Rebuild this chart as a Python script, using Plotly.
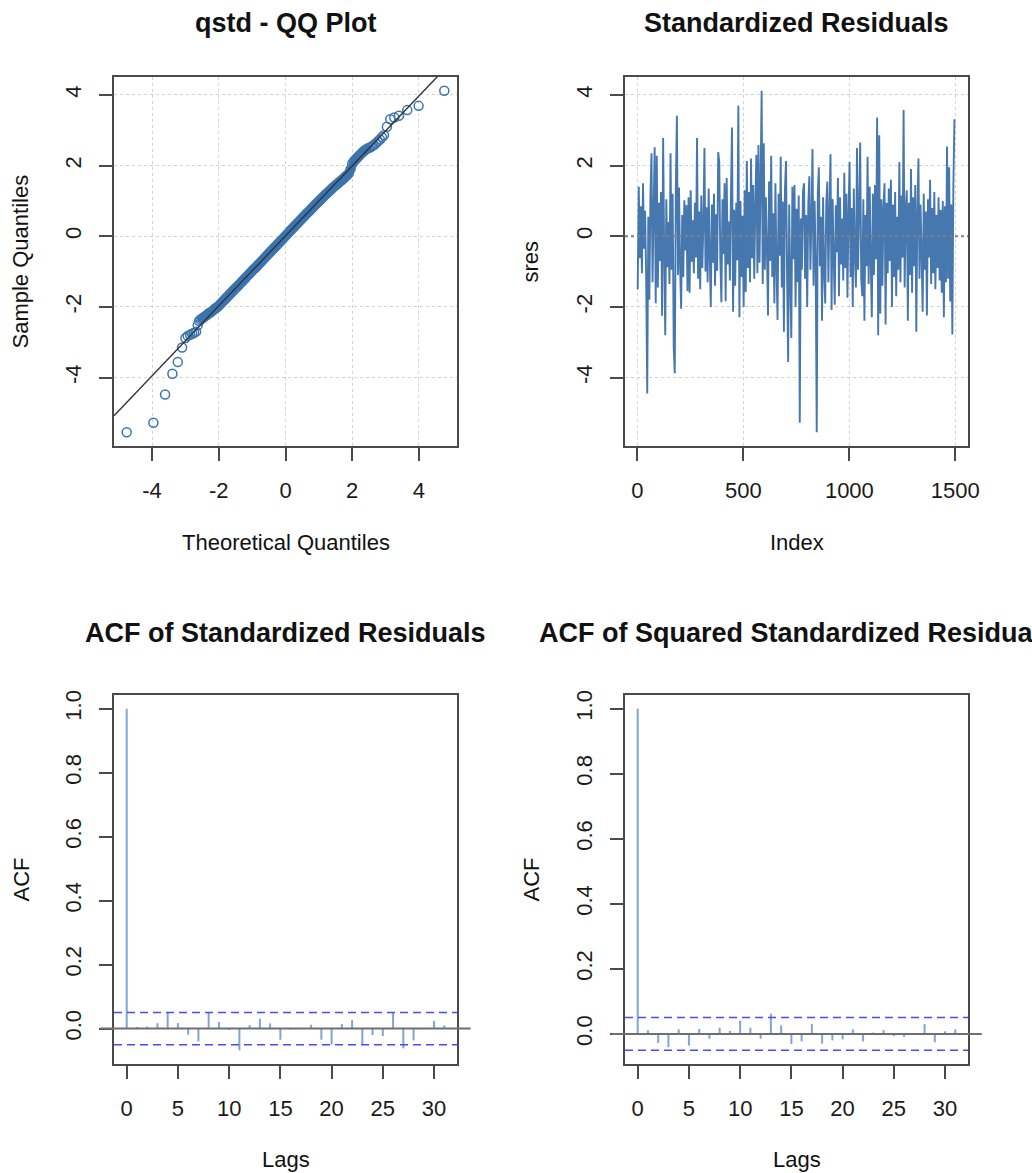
import math
import plotly.graph_objects as go

# ---------------- data ----------------
# QQ plot: theoretical quantiles (qstd) vs sample quantiles
qq_theoretical = [
    -4.76, -3.96, -3.61, -3.39, -3.23, -3.10, -3.00, -2.93, -2.86, -2.80, -2.74, -2.68, -2.63, -2.59, -2.55,
    -2.50, -2.45, -2.40, -2.35, -2.30, -2.25, -2.20, -2.15, -2.10, -2.05,
    -2.00, -1.95, -1.90, -1.85, -1.80, -1.75, -1.70, -1.65, -1.60, -1.55,
    -1.50, -1.45, -1.40, -1.35, -1.30, -1.25, -1.20, -1.15, -1.10, -1.05,
    -1.00, -0.95, -0.90, -0.85, -0.80, -0.75, -0.70, -0.65, -0.60, -0.55,
    -0.50, -0.45, -0.40, -0.35, -0.30, -0.25, -0.20, -0.15, -0.10, -0.05,
    0.00, 0.05, 0.10, 0.15, 0.20, 0.25, 0.30, 0.35, 0.40, 0.45,
    0.50, 0.55, 0.60, 0.65, 0.70, 0.75, 0.80, 0.85, 0.90, 0.95,
    1.00, 1.05, 1.10, 1.15, 1.20, 1.25, 1.30, 1.35, 1.40, 1.45,
    1.50, 1.55, 1.60, 1.65, 1.70, 1.75, 1.80, 1.85, 1.90, 1.95,
    2.00, 2.05, 2.10, 2.15, 2.20, 2.25, 2.30, 2.35, 2.40, 2.45, 2.50,
    2.55, 2.60, 2.65, 2.71, 2.77, 2.83, 2.89, 2.95, 3.04, 3.14, 3.26, 3.40, 3.65, 3.99, 4.76,
]
qq_sample = [
    -5.55, -5.28, -4.48, -3.89, -3.56, -3.15, -2.88, -2.82, -2.79, -2.76, -2.73, -2.70, -2.52, -2.40, -2.36,
    -2.33, -2.29, -2.26, -2.22, -2.18, -2.16, -2.12, -2.08, -2.04, -2.01,
    -1.97, -1.92, -1.87, -1.82, -1.77, -1.72, -1.67, -1.62, -1.57, -1.52,
    -1.47, -1.43, -1.38, -1.33, -1.28, -1.23, -1.18, -1.13, -1.08, -1.03,
    -0.98, -0.93, -0.89, -0.84, -0.79, -0.74, -0.69, -0.64, -0.59, -0.54,
    -0.49, -0.44, -0.39, -0.34, -0.29, -0.24, -0.19, -0.14, -0.09, -0.04,
    0.01, 0.06, 0.11, 0.16, 0.21, 0.26, 0.31, 0.36, 0.41, 0.46,
    0.51, 0.56, 0.61, 0.66, 0.70, 0.75, 0.80, 0.85, 0.90, 0.95,
    0.99, 1.04, 1.08, 1.13, 1.18, 1.22, 1.27, 1.31, 1.36, 1.40,
    1.44, 1.48, 1.52, 1.56, 1.60, 1.64, 1.69, 1.73, 1.78, 1.90,
    2.05, 2.12, 2.17, 2.22, 2.27, 2.32, 2.37, 2.41, 2.45, 2.48, 2.50,
    2.52, 2.55, 2.58, 2.63, 2.69, 2.74, 2.80, 2.86, 3.10, 3.31, 3.36, 3.41, 3.57, 3.69, 4.12,
]
qq_line_intercept = 0.01
qq_line_slope = 0.99
qq_dense_from = -2.60   # theoretical range where the 1500 points overlap into a band
qq_dense_to = 2.55

# Standardized residuals (read approximately, every 5th observation of 1500)
sres = [
    -1.50, 1.40, -0.62, 0.85, -1.05, 1.50, -0.35, 0.72, -1.22, -4.45, 0.55, -1.80, 1.10, 2.35, -1.30, 0.68, 2.52, -1.90, 2.28, -1.45,
    0.95, -0.70, 1.25, -2.25, 2.78, -0.45, -2.80, 1.05, -0.88, 0.40, -1.35, 2.35, -0.95, 1.20, -3.15, -3.88, 1.40, 3.41, -1.10, 1.38,
    -0.85, -2.05, 0.60, -1.15, 1.02, -0.40, 0.88, -1.55, 1.10, -1.60, 1.30, -0.72, 0.45, -1.05, 0.95, -0.60, 2.78, -1.20, 0.70, -1.50,
    1.15, -0.90, 0.35, 2.50, -1.00, 0.82, -1.30, 1.35, -0.55, -2.00, 0.90, -0.75, 1.20, -1.40, 0.62, -0.98, 2.38, 2.10, -0.65, -1.87,
    1.05, -0.50, 1.50, -1.84, 1.65, -0.80, 0.42, -1.25, 1.12, 3.08, -2.14, 0.75, -1.40, 0.95, -0.68, 3.69, -2.29, 1.00, -1.15, 0.58,
    -2.00, 1.30, -1.58, 2.13, -0.90, 1.25, -1.30, 2.20, -0.62, 1.45, -1.20, 0.88, 2.30, -1.05, 2.58, -0.75, 1.60, 4.12, -1.35, 2.63,
    -0.95, 1.10, -0.40, -2.24, 1.55, -0.70, 2.28, -1.15, 0.65, -1.90, 1.50, -0.85, -2.37, 1.20, -0.55, 2.25, -1.45, 0.98, -2.70, 1.35,
    2.13, -1.10, -3.56, 0.90, -1.25, -2.88, 1.40, -0.65, 1.45, -2.00, 0.78, -1.30, 1.15, -5.28, 0.50, -0.95, 1.25, 1.50, -1.20, 0.60,
    -2.00, 0.85, 1.70, -0.95, 0.45, 2.47, -1.40, 1.00, -0.70, -5.55, 1.20, 1.95, -0.85, 0.55, -2.39, 1.10, -1.05, -1.90, 0.95, 1.55,
    -1.30, 0.70, 2.32, -2.09, 1.05, -0.60, -1.94, 0.88, -0.45, 1.65, -1.70, 1.10, -0.80, 0.50, -1.25, 1.80, -0.90, 1.20, -1.74, 0.65,
    2.10, -1.15, 0.80, -2.00, 1.35, -0.55, -1.45, 2.50, -0.95, 0.70, 2.65, -1.20, -1.70, 1.05, -2.39, 0.60, -0.85, 2.25, -1.35, 1.40,
    -0.75, -2.29, 1.20, -1.10, 1.45, -0.65, 3.36, -2.80, 2.86, -2.19, 1.05, -1.40, 0.85, 1.50, -2.50, 0.95, -1.05, 1.35, -0.70, 1.60,
    -2.00, 0.90, -1.15, 1.25, -1.70, 0.55, -0.95, 2.10, -1.30, 1.15, -0.60, 3.57, -1.45, 0.75, 1.30, -2.39, 0.95, -1.10, 1.90, -1.60,
    1.10, -0.85, 1.45, -2.70, 0.65, 2.20, -1.20, 0.90, -0.55, -2.14, 1.20, -0.95, 0.70, -2.24, 1.05, -0.60, 1.60, -1.35, 0.80, -1.05,
    1.25, -1.50, 0.60, -0.90, 1.10, -1.25, 0.75, -1.60, 1.00, -2.29, 0.85, -1.30, 2.54, -1.20, 1.95, -1.85, 0.90, -2.78, 1.47, 3.31,
]
n_obs = 1500
sres_index = list(range(1, 5 * len(sres), 5))

# ACF values, lags 0..31
acf_lags = list(range(0, 32))
acf_res = [1.0, 0.005, 0.006, 0.017, 0.050, 0.017, -0.019, -0.040, 0.052, 0.021, -0.004,
           -0.068, 0.011, 0.031, 0.016, -0.035, -0.003, 0.002, 0.012, -0.035, -0.050,
           0.014, 0.027, -0.050, -0.020, -0.023, 0.050, -0.062, -0.037, -0.002, 0.024, 0.010]
acf_sq = [1.0, 0.011, -0.028, -0.041, 0.014, -0.036, 0.015, -0.015, 0.019, 0.009, 0.041,
          0.019, -0.015, 0.062, 0.026, -0.031, -0.023, 0.030, -0.030, -0.020, -0.017,
          0.014, -0.023, 0.004, 0.012, -0.007, -0.009, -0.003, 0.030, -0.026, 0.008, 0.014]
clim = 1.96 / math.sqrt(n_obs)

qq_ticks = [-4, -2, 0, 2, 4]
qq_ticktext = ["-4", "-2", "0", "2", "4"]
ts_xticks = [0, 500, 1000, 1500]
acf_xticks = [0, 5, 10, 15, 20, 25, 30]
acf_yticks = [0.0, 0.2, 0.4, 0.6, 0.8, 1.0]
acf_yticktext = ["0.0", "0.2", "0.4", "0.6", "0.8", "1.0"]

# ---------------- layout helpers ----------------
W, H = 1032, 1173
FONT = "Liberation Sans, Arial, Helvetica, sans-serif"
STEEL = "#3B75B0"
ACF_COL = "#7FA6D2"
BOX = "#4a4a4a"


def ext(lo, hi, f=0.04):
    d = (hi - lo) * f
    return [lo - d, hi + d]


def px(x):
    return x / W


def py(y):
    return 1 - y / H


left_dom = [px(114), px(457)]
right_dom = [px(625), px(968)]
top_dom = [py(446), py(77)]
bot_dom = [py(1064), py(695)]

fig = go.Figure()

# QQ plot
qx_rng = ext(min(qq_theoretical), max(qq_theoretical))
qy_rng = ext(min(qq_sample), max(qq_sample))
dense = [(t, s) for t, s in zip(qq_theoretical, qq_sample) if qq_dense_from <= t <= qq_dense_to]
fig.add_trace(go.Scatter(
    x=[d[0] for d in dense], y=[d[1] for d in dense], mode="lines", xaxis="x", yaxis="y",
    line=dict(color="#3B72AC", width=8), showlegend=False, hoverinfo="skip"))
fig.add_trace(go.Scatter(
    x=qq_theoretical, y=qq_sample, mode="markers", xaxis="x", yaxis="y",
    marker=dict(symbol="circle-open", size=9, color=STEEL, line=dict(width=1.5, color=STEEL)),
    showlegend=False, hoverinfo="skip"))
lx = [qx_rng[0], qx_rng[1]]
fig.add_trace(go.Scatter(
    x=lx, y=[qq_line_intercept + qq_line_slope * v for v in lx], mode="lines",
    xaxis="x", yaxis="y", line=dict(color="#333333", width=1.4),
    showlegend=False, hoverinfo="skip"))

# Standardized residuals series
tx_rng = ext(1, n_obs)
ty_rng = ext(min(sres + qq_sample), max(sres + qq_sample))
fig.add_trace(go.Scatter(
    x=sres_index, y=sres, mode="lines", xaxis="x2", yaxis="y2",
    line=dict(color="rgba(50,104,166,0.9)", width=1.9, simplify=False),
    showlegend=False, hoverinfo="skip"))


def acf_segments(lags, vals):
    xs, ys = [], []
    for l, v in zip(lags, vals):
        xs += [l, l, None]
        ys += [0, v, None]
    return xs, ys


def acf_range(vals):
    return ext(min(min(vals), -clim), max(max(vals), clim))


ax3, ay3 = acf_segments(acf_lags, acf_res)
ax4, ay4 = acf_segments(acf_lags, acf_sq)
fig.add_trace(go.Scatter(x=ax3, y=ay3, mode="lines", xaxis="x3", yaxis="y3",
                         line=dict(color=ACF_COL, width=2), showlegend=False, hoverinfo="skip"))
fig.add_trace(go.Scatter(x=ax4, y=ay4, mode="lines", xaxis="x4", yaxis="y4",
                         line=dict(color=ACF_COL, width=2), showlegend=False, hoverinfo="skip"))

acf_x_rng = ext(min(acf_lags), max(acf_lags))
a3_rng = acf_range(acf_res)
a4_rng = acf_range(acf_sq)

# ---------------- axes ----------------
base = dict(showline=True, linecolor=BOX, linewidth=1.6, mirror=True,
            ticks="outside", ticklen=13, tickwidth=1.6, tickcolor=BOX,
            tickfont=dict(size=22, color="#1a1a1a", family=FONT),
            zeroline=False, fixedrange=True)
grid = dict(showgrid=True, gridcolor="#d2d2d2", griddash="dot", gridwidth=1.2)
nogrid = dict(showgrid=False)
XSTAND = 11
YSTAND = 9


def ax(g, **kw):
    d = dict(base)
    d.update(g)
    d.update(kw)
    return d


fig.update_layout(
    xaxis=ax(grid, domain=left_dom, anchor="y", range=qx_rng,
             tickvals=qq_ticks, ticktext=qq_ticktext, ticklabelstandoff=XSTAND),
    yaxis=ax(grid, domain=top_dom, anchor="x", range=qy_rng,
             tickvals=qq_ticks, ticktext=qq_ticktext, tickangle=-90, ticklabelstandoff=YSTAND),
    xaxis2=ax(grid, domain=right_dom, anchor="y2", range=tx_rng,
              tickvals=ts_xticks, ticktext=[str(v) for v in ts_xticks], ticklabelstandoff=XSTAND),
    yaxis2=ax(grid, domain=top_dom, anchor="x2", range=ty_rng,
              tickvals=qq_ticks, ticktext=qq_ticktext, tickangle=-90, ticklabelstandoff=YSTAND),
    xaxis3=ax(nogrid, domain=left_dom, anchor="y3", range=acf_x_rng,
              tickvals=acf_xticks, ticktext=[str(v) for v in acf_xticks], ticklabelstandoff=XSTAND),
    yaxis3=ax(nogrid, domain=bot_dom, anchor="x3", range=a3_rng,
              tickvals=acf_yticks, ticktext=acf_yticktext, tickangle=-90, ticklabelstandoff=YSTAND),
    xaxis4=ax(nogrid, domain=right_dom, anchor="y4", range=acf_x_rng,
              tickvals=acf_xticks, ticktext=[str(v) for v in acf_xticks], ticklabelstandoff=XSTAND),
    yaxis4=ax(nogrid, domain=bot_dom, anchor="x4", range=a4_rng,
              tickvals=acf_yticks, ticktext=acf_yticktext, tickangle=-90, ticklabelstandoff=YSTAND),
)

# ---------------- reference lines ----------------
fig.add_shape(type="line", xref="x2 domain", yref="y2", x0=0, x1=1, y0=0, y1=0,
              line=dict(color="#808080", width=1.8, dash="dot"), layer="above")

for xr, yr, rng in (("x3", "y3", a3_rng), ("x4", "y4", a4_rng)):
    for c in (clim, -clim):
        fig.add_shape(type="line", xref=xr + " domain", yref=yr, x0=0, x1=1, y0=c, y1=c,
                      line=dict(color="#4a4aff", width=1.5, dash="8px,5px"), layer="above")
    yd = (0 - rng[0]) / (rng[1] - rng[0])
    fig.add_shape(type="line", xref=xr + " domain", yref=yr + " domain",
                  x0=-0.04, x1=1.04, y0=yd, y1=yd,
                  line=dict(color="#6f6f6f", width=2), layer="above")

# ---------------- titles ----------------
ann = []


def txt(x, y, s, size=22, bold=False, angle=0):
    ann.append(dict(x=px(x), y=py(y), xref="paper", yref="paper", showarrow=False,
                    text=("<b>%s</b>" % s) if bold else s, textangle=angle,
                    xanchor="center", yanchor="middle",
                    font=dict(size=size, color="#111111", family=FONT)))


cx_l = (114 + 457) / 2
cx_r = (625 + 968) / 2
txt(cx_l, 23, "qstd - QQ Plot", 27, True)
txt(cx_r, 23, "Standardized Residuals", 27, True)
txt(cx_l, 633, "ACF of Standardized Residuals", 27, True)
txt(cx_r, 633, "ACF of Squared Standardized Residuals", 27, True)
txt(cx_l, 542, "Theoretical Quantiles")
txt(cx_r, 542, "Index")
txt(cx_l, 1159, "Lags")
txt(cx_r, 1159, "Lags")
txt(20, 261.5, "Sample Quantiles", angle=-90)
txt(530, 261.5, "sres", angle=-90)
txt(21, 879.5, "ACF", angle=-90)
txt(531, 879.5, "ACF", angle=-90)

fig.update_layout(
    width=W, height=H, margin=dict(l=0, r=0, t=0, b=0),
    paper_bgcolor="white", plot_bgcolor="white", template="none",
    annotations=ann, showlegend=False, font=dict(family=FONT),
)

fig.write_html("out.html")
